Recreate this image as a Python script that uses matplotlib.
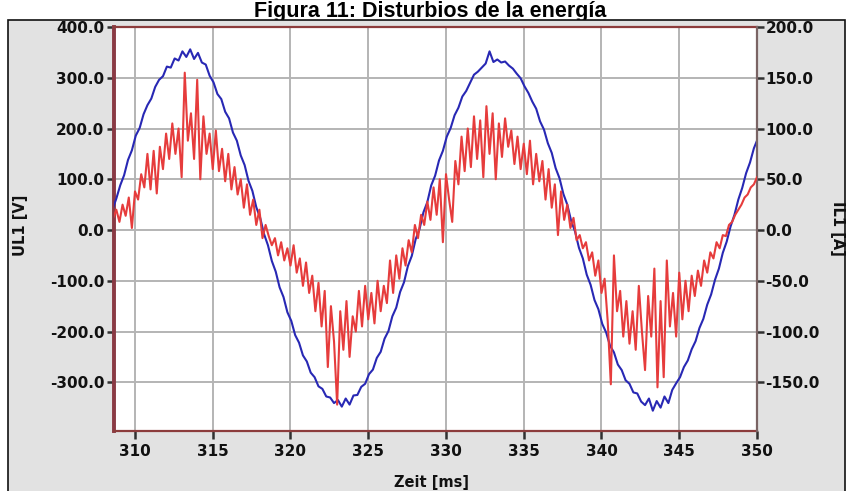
import numpy as np
import matplotlib
matplotlib.use("Agg")
import matplotlib.pyplot as plt
from matplotlib.patches import Rectangle
from matplotlib.ticker import FormatStrFormatter

plt.rcParams['axes.unicode_minus'] = False
plt.rcParams['font.family'] = ['DejaVu Sans']

title = "Figura 11: Disturbios de la energía"
x_label = "Zeit [ms]"
y_left_label = "UL1 [V]"
y_right_label = "IL1 [A]"

x_ticks = [310, 315, 320, 325, 330, 335, 340, 345, 350]
y_left_ticks = [-300, -200, -100, 0, 100, 200, 300, 400]
y_right_ticks = [-150, -100, -50, 0, 50, 100, 150, 200]

# Voltage UL1 [V], sampled every 0.25 ms starting at 308.55 ms
voltage_start = 308.55
voltage_step = 0.25
voltage = [
    40, 62, 88, 108, 138, 157, 186, 201, 228, 246, 259, 282,
    296, 303, 322, 320, 338, 334, 352, 341, 356, 337, 349, 330, 326, 304, 291, 268,
    258, 233, 220, 192, 176, 147, 128, 97, 77, 45, 24, -8,
    -30, -61, -82, -113, -132, -162, -179, -207, -222, -247, -259, -281,
    -290, -308, -313, -328, -330, -341, -335, -348, -332, -344, -326, -325, -309, -303, -284, -275,
    -252, -240, -214, -199, -170, -153, -122, -103, -71, -51, -18, 2,
    35, 55, 88, 107, 137, 156, 184, 201, 226, 241, 263, 274,
    290, 306, 312, 320, 328, 352, 331, 336, 330, 332, 324, 318, 308, 299, 283, 270,
    253, 239, 214, 198, 171, 152, 122, 102, 71, 50, 18, -3,
    -35, -56, -88, -108, -138, -156, -185, -202, -228, -241, -265, -276,
    -296, -303, -320, -322, -338, -345, -332, -356, -337, -350, -328, -341, -315, -302, -290, -270,
    -257, -235, -219, -193, -175, -147, -127, -98, -76, -45, -23, 7,
    30, 60, 83, 112, 133, 161, 180,
]

# Current IL1 [A], sampled every 0.2 ms starting at 308.6 ms
current_start = 308.6
current_step = 0.2
current = [
    12, 20, 8, 25, 14, 32, 2, 38, 30, 55,
    42, 75, 40, 78, 36, 82, 60, 95, 70, 105,
    75, 100, 52, 155, 88, 115, 70, 148, 50, 112,
    75, 95, 60, 98, 58, 80, 48, 75, 40, 62,
    35, 50, 22, 45, 15, 30, 5, 20, -8, 5,
    -6, -15, -8, -25, -12, -30, -18, -35, -15, -42,
    -28, -55, -32, -62, -45, -80, -52, -95, -60, -135,
    -75, -110, -172, -80, -118, -70, -125, -85, -100, -60,
    -95, -55, -88, -62, -92, -50, -80, -55, -72, -30,
    -62, -25, -48, -18, -35, -10, -22, 5, -8, 15,
    5, 28, 10, 42, 15, 50, -12, 55, 30, 8,
    68, 45, 92, 58, 100, 62, 112, 70, 108, 52,
    122, 75, 115, 50, 105, 72, 110, 82, 98, 65,
    92, 60, 85, 55, 88, 45, 75, 48, 68, 30,
    60, 22, 45, -5, 38, 10, 25, 2, 12, -10,
    -5, -18, -12, -30, -22, -45, -30, -62, -48, -90,
    -152, -25, -80, -60, -105, -70, -112, -80, -118, -55,
    -100, -138, -65, -105, -38, -155, -70, -145, -30, -95,
    -62, -105, -42, -88, -50, -80, -45, -65, -40, -55,
    -30, -42, -22, -28, -12, -18, -5, -6, 5, 8,
    15, 20, 25, 32, 35, 42, 45, 52,
]

t_v = voltage_start + voltage_step * np.arange(len(voltage))
t_i = current_start + current_step * np.arange(len(current))

W, H = 850, 491
fig = plt.figure(figsize=(W / 100, H / 100), dpi=100)
fig.patch.set_facecolor('white')

fig.text(430 / W, 1 - 17.5 / H, title, ha='center', va='baseline',
         fontsize=15.5, fontweight='bold', family='Liberation Sans', zorder=0.2)

panel = Rectangle((8 / W, -0.02), (845 - 8) / W, (H - 20) / H + 0.02,
                  transform=fig.transFigure, facecolor='#e2e2e2',
                  edgecolor='#111111', lw=1.2, zorder=0.5)
fig.patches.append(panel)

L, R, T, B = 114, 757, 27, 431
ax = fig.add_axes([L / W, 1 - B / H, (R - L) / W, (B - T) / H])
ax.set_zorder(1)
ax.set_facecolor('white')
ax2 = ax.twinx()
ax2.set_zorder(2)
ax2.patch.set_visible(False)

ax.plot(t_v, voltage, color='#2828b4', lw=1.5, zorder=3)
ax2.plot(t_i, current, color='#e63c3c', lw=1.5, zorder=3)

ax.set_xlim(308.65, 350)
ax.set_ylim(-396, 400)
ax2.set_ylim(-198, 200)

ax.set_xticks(x_ticks)
ax.set_yticks(y_left_ticks)
ax2.set_yticks(y_right_ticks)
ax.xaxis.set_major_formatter(FormatStrFormatter('%d'))
ax.yaxis.set_major_formatter(FormatStrFormatter('%.1f'))
ax2.yaxis.set_major_formatter(FormatStrFormatter('%.1f'))

ax.grid(True, color='#b4b4b4', lw=1.4)
ax.set_axisbelow(True)

frame = '#8c3c3c'
for s in ['top', 'bottom']:
    ax.spines[s].set_color(frame)
    ax.spines[s].set_linewidth(1.6)
ax.spines['left'].set_color('#8a3a44')
ax.spines['left'].set_linewidth(2.8)
ax.spines['right'].set_visible(False)
for s in ['top', 'bottom', 'left']:
    ax2.spines[s].set_visible(False)
ax2.spines['right'].set_color('#7a6464')
ax2.spines['right'].set_linewidth(1.6)

ax.tick_params(axis='x', direction='out', length=6, width=1.8, color='#303030',
               pad=3, labelsize=11, labelcolor='#111111')
ax.tick_params(axis='y', direction='out', length=5, width=1.8, color='#303030',
               pad=2, labelsize=11, labelcolor='#111111')
ax2.tick_params(axis='y', direction='out', length=5, width=1.8, color='#303030',
                pad=1, labelsize=11, labelcolor='#111111')
for lab in ax.get_xticklabels() + ax.get_yticklabels() + ax2.get_yticklabels():
    lab.set_fontweight('bold')

fig.text(20 / W, 1 - 225 / H, y_left_label, rotation=90, ha='center', va='center',
         fontsize=10.5, fontweight='bold', color='#111111', zorder=3)
fig.text(838 / W, 1 - 228 / H, y_right_label, rotation=270, ha='center', va='center',
         fontsize=10.5, fontweight='bold', color='#111111', zorder=3)
fig.text(432 / W, 1 - 482 / H, x_label, ha='center', va='center',
         fontsize=10.5, fontweight='bold', color='#111111', zorder=3)

fig.savefig('out.png', dpi=100, facecolor='white')
